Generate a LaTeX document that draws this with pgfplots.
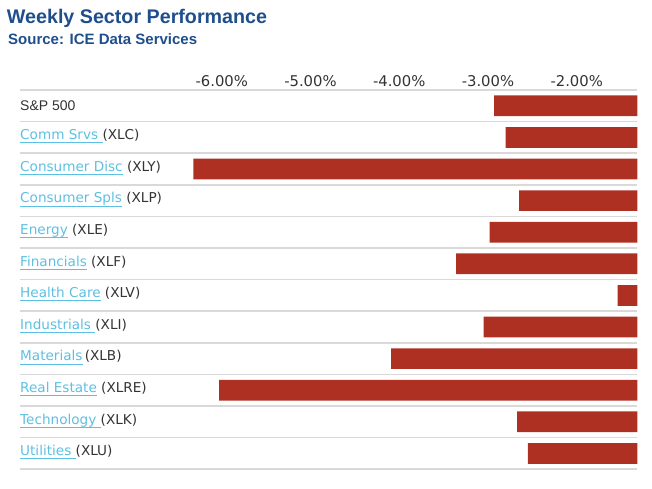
\documentclass[border=0pt]{standalone}
\usepackage{fontspec}
\setmainfont{DejaVu Sans}
\newfontfamily\arialfont{Liberation Sans}
\usepackage{pgfplots}
\pgfplotsset{compat=1.18}
\definecolor{barred}{HTML}{AE3023}
\definecolor{titleblue}{HTML}{1F4E8C}
\definecolor{linkblue}{HTML}{5DBFE2}
\definecolor{txt}{HTML}{333333}
\definecolor{gridgray}{HTML}{D9D9D9}
\newcommand{\lnk}[1]{\setbox0\hbox{#1}\rlap{\color{linkblue}\rule[-3.8pt]{\wd0}{1.1pt}}{\color{linkblue}\box0}}
\newcommand{\lab}[2]{\lnk{#1}\textcolor{txt}{#2}}
\begin{document}
\begin{tikzpicture}
\useasboundingbox (0,0) rectangle (652pt,488pt);
\node[anchor=base west, inner sep=0pt, text=titleblue, font=\arialfont\bfseries\fontsize{19.7}{22}\selectfont] at (6.7pt,464pt) {Weekly Sector Performance};
\node[anchor=base west, inner sep=0pt, text=titleblue, font=\arialfont\bfseries\fontsize{15}{18}\selectfont] at (8pt,443.7pt) {Source: ICE Data Services};
\begin{axis}[
  at={(20pt,18.8pt)}, anchor=south west, scale only axis,
  width=617.3pt, height=379.2pt,
  xmin=-8.273, xmax=-1.317, ymin=-0.5, ymax=11.5, y dir=reverse,
  axis line style={draw=none},
  major tick length=0pt, minor tick length=0pt,
  xtick={-6,-5,-4,-3,-2},
  xticklabels={-6.00\%,-5.00\%,-4.00\%,-3.00\%,-2.00\%},
  xticklabel pos=upper,
  xticklabel style={font=\fontsize{14.8}{17}\selectfont, text=txt, anchor=base, inner sep=0pt, yshift=4pt},
  ytick={0,1,2,3,4,5,6,7,8,9,10,11},
  yticklabels={
    {\raisebox{-2pt}{\arialfont\fontsize{14}{16}\selectfont\textcolor{txt}{S\&P 500}}},
    {\lab{Comm Srvs\ }{(XLC)}},
    {\lab{Consumer Disc}{\ (XLY)}},
    {\lab{Consumer Spls}{\ (XLP)}},
    {\lab{Energy}{\ (XLE)}},
    {\lab{Financials}{\ (XLF)}},
    {\lab{Health Care}{\ (XLV)}},
    {\lab{Industrials\ }{(XLI)}},
    {\lab{Materials}{\,(XLB)}},
    {\lab{Real Estate}{\ (XLRE)}},
    {\lab{Technology\ }{(XLK)}},
    {\lab{Utilities\ }{(XLU)}}},
  yticklabel style={anchor=base west, inner sep=0pt, yshift=-2.2pt, font=\fontsize{13.6}{16}\selectfont, text=txt},
  minor ytick={-0.5,0.5,1.5,2.5,3.5,4.5,5.5,6.5,7.5,8.5,9.5,10.5,11.5},
  yminorgrids, minor grid style={draw=gridgray, line width=1.5pt},
]
\addplot[xbar, bar width=20.7pt, bar shift=0pt, fill=barred, draw=none] coordinates {
  (-2.93,0)
  (-2.80,1)
  (-6.32,2)
  (-2.65,3)
  (-2.98,4)
  (-3.36,5)
  (-1.54,6)
  (-3.05,7)
  (-4.09,8)
  (-6.03,9)
  (-2.67,10)
  (-2.55,11)
};
\end{axis}
\end{tikzpicture}
\end{document}
